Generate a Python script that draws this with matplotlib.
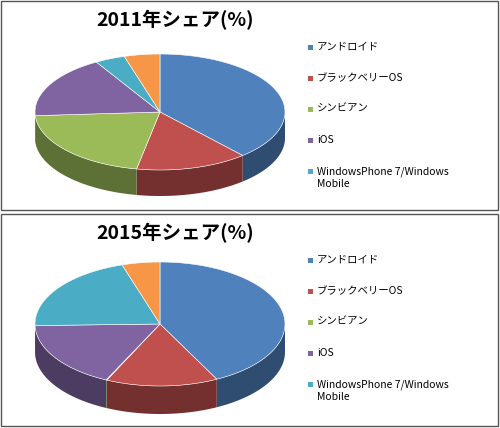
import numpy as np
import matplotlib
matplotlib.use('Agg')
import matplotlib.pyplot as plt
from matplotlib.patches import Polygon, Rectangle
from matplotlib.colors import to_rgb

plt.rcParams['font.family'] = ['Noto Sans CJK JP', 'DejaVu Sans']

labels = ['アンドロイド', 'ブラックベリーOS', 'シンビアン', 'iOS',
          'WindowsPhone 7/Windows\nMobile', 'その他']
share_2011 = [38.5, 14.5, 21.0, 17.5, 3.9, 4.6]
share_2015 = [42.5, 14.5, 0.1, 17.5, 20.5, 4.9]
colors = ['#4F81BD', '#C0504D', '#9BBB59', '#8064A2', '#4BACC6', '#F79646']

fig = plt.figure(figsize=(5, 4.28), dpi=100)
ax = fig.add_axes([0, 0, 1, 1])
ax.set_xlim(0, 500); ax.set_ylim(428, 0); ax.axis('off')


def dark(c, f=0.6):
    return tuple(v * f for v in to_rgb(c))


def pie3d(vals, cx, cy, a, b, d):
    frac = np.array(vals) / sum(vals)
    edges = np.radians(90 - 360 * np.concatenate([[0], np.cumsum(frac)]))
    # side walls (front half only)
    for i in range(len(vals)):
        t1, t0 = edges[i], edges[i + 1]
        for base in (-2 * np.pi, 0, 2 * np.pi):
            lo, hi = max(t0, base + np.pi), min(t1, base + 2 * np.pi)
            if hi <= lo:
                continue
            t = np.linspace(lo, hi, 60)
            x = cx + a * np.cos(t); y = cy - b * np.sin(t)
            pts = np.column_stack([np.r_[x, x[::-1]], np.r_[y, y[::-1] + d]])
            ax.add_patch(Polygon(pts, closed=True, fc=dark(colors[i]), ec='none'))
    # top faces
    for i in range(len(vals)):
        t = np.linspace(edges[i + 1], edges[i], 80)
        x = np.r_[cx, cx + a * np.cos(t)]; y = np.r_[cy, cy - b * np.sin(t)]
        ax.add_patch(Polygon(np.column_stack([x, y]), closed=True, fc=colors[i],
                             ec='white', lw=0.4))


def panel(y0, h, title, vals, cy, b, d):
    ax.add_patch(Rectangle((1, y0), 497, h, fill=False, ec='#555555', lw=1))
    ax.text(175, y0 + 19, title, ha='center', va='center', fontsize=14, fontweight='bold')
    pie3d(vals, 160, cy, 125, b, d)
    ly = y0 + 47
    for i, lab in enumerate(labels[:5]):
        ax.add_patch(Rectangle((308, ly - 3), 5, 5, fc=colors[i], ec='none'))
        ax.text(317, ly - 1 if '\n' not in lab else ly + 6, lab, va='center', fontsize=7.5,
                linespacing=1.3)
        ly += 31


panel(1, 209, '2011年シェア(%)', share_2011, 112, 58, 26)
panel(214, 212, '2015年シェア(%)', share_2015, 324, 62, 28)

fig.savefig('out.png', dpi=100)
